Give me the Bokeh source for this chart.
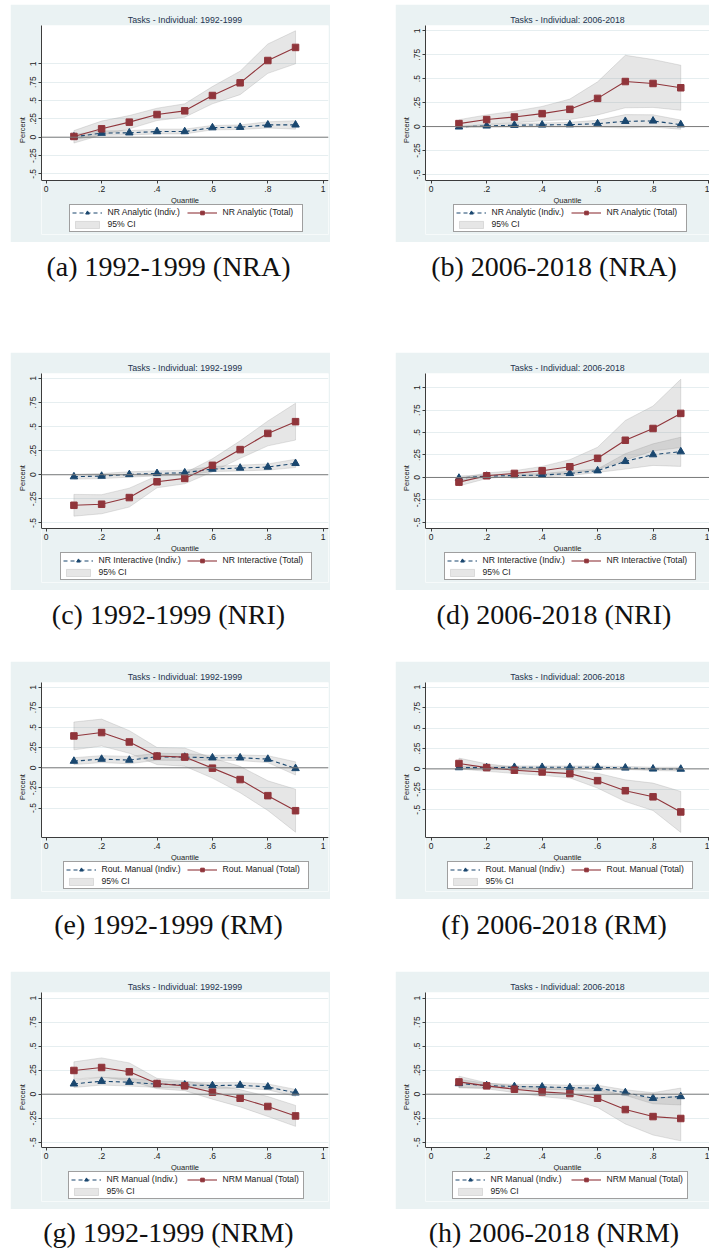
from bokeh.plotting import figure
from bokeh.layouts import column, row
from bokeh.models import (FixedTicker, Span, Legend, LegendItem, Div, Spacer, Range1d,
                          BoxAnnotation)
from bokeh.embed import file_html
from bokeh.resources import INLINE

# ---------------- data ----------------
QUANTILES = [0.1, 0.2, 0.3, 0.4, 0.5, 0.6, 0.7, 0.8, 0.9]
X_TICKS = [0.0, 0.2, 0.4, 0.6, 0.8, 1.0]
X_TICK_LABELS = ["0", ".2", ".4", ".6", ".8", "1"]
Y_TICKS = [-0.5, -0.25, 0.0, 0.25, 0.5, 0.75, 1.0]
Y_TICK_LABELS = ["-.5", "-.25", "0", ".25", ".5", ".75", "1"]

TITLES = ["Tasks - Individual: 1992-1999", "Tasks - Individual: 2006-2018"]
CAPTIONS = ["(a) 1992-1999 (NRA)", "(b) 2006-2018 (NRA)",
            "(c) 1992-1999 (NRI)", "(d) 2006-2018 (NRI)",
            "(e) 1992-1999 (RM)", "(f) 2006-2018 (RM)",
            "(g) 1992-1999 (NRM)", "(h) 2006-2018 (NRM)"]
INDIV_LABELS = ["NR Analytic (Indiv.)", "NR Interactive (Indiv.)",
                "Rout. Manual (Indiv.)", "NR Manual (Indiv.)"]
TOTAL_LABELS = ["NR Analytic (Total)", "NR Interactive (Total)",
                "Rout. Manual (Total)", "NRM Manual (Total)"]
CI_LABEL = "95% CI"

# (a) NRA 1992-1999
A_INDIV = [0.005, 0.055, 0.06, 0.077, 0.077, 0.13, 0.136, 0.168, 0.168]
A_INDIV_LO = [-0.03, 0.025, 0.03, 0.045, 0.045, 0.10, 0.105, 0.125, 0.11]
A_INDIV_HI = [0.04, 0.085, 0.09, 0.11, 0.11, 0.16, 0.167, 0.21, 0.225]
A_TOTAL = [0.01, 0.114, 0.205, 0.309, 0.359, 0.568, 0.741, 1.045, 1.223]
A_TOTAL_LO = [-0.08, 0.03, 0.114, 0.227, 0.273, 0.455, 0.58, 0.87, 1.0]
A_TOTAL_HI = [0.09, 0.22, 0.295, 0.395, 0.455, 0.69, 0.9, 1.27, 1.45]
# (b) NRA 2006-2018
B_INDIV = [-0.003, 0.007, 0.014, 0.017, 0.02, 0.03, 0.055, 0.059, 0.02]
B_INDIV_LO = [-0.012, -0.006, -0.004, -0.004, -0.005, -0.005, -0.015, -0.005, -0.028]
B_INDIV_HI = [0.006, 0.02, 0.032, 0.038, 0.045, 0.065, 0.125, 0.123, 0.068]
B_TOTAL = [0.031, 0.073, 0.10, 0.135, 0.18, 0.294, 0.47, 0.45, 0.405]
B_TOTAL_LO = [-0.01, 0.024, 0.04, 0.06, 0.073, 0.121, 0.196, 0.2, 0.17]
B_TOTAL_HI = [0.072, 0.122, 0.16, 0.21, 0.287, 0.467, 0.744, 0.7, 0.64]
# (c) NRI 1992-1999
C_INDIV = [-0.02, -0.014, 0.003, 0.014, 0.021, 0.059, 0.07, 0.08, 0.118]
C_INDIV_LO = [-0.045, -0.04, -0.025, -0.012, -0.005, 0.033, 0.04, 0.048, 0.075]
C_INDIV_HI = [0.005, 0.012, 0.031, 0.04, 0.047, 0.085, 0.10, 0.112, 0.161]
C_TOTAL = [-0.317, -0.306, -0.237, -0.073, -0.038, 0.098, 0.261, 0.429, 0.551]
C_TOTAL_LO = [-0.43, -0.405, -0.335, -0.135, -0.094, 0.03, 0.17, 0.30, 0.36]
C_TOTAL_HI = [-0.204, -0.207, -0.139, -0.011, 0.018, 0.166, 0.352, 0.558, 0.742]
# (d) NRI 2006-2018
D_INDIV = [-0.007, 0.015, 0.022, 0.026, 0.045, 0.075, 0.179, 0.254, 0.287]
D_INDIV_LO = [-0.03, 0.0, 0.005, 0.008, 0.02, 0.056, 0.093, 0.134, 0.123]
D_INDIV_HI = [0.016, 0.03, 0.039, 0.044, 0.07, 0.094, 0.265, 0.374, 0.448]
D_TOTAL = [-0.052, 0.019, 0.045, 0.075, 0.119, 0.213, 0.414, 0.545, 0.713]
D_TOTAL_LO = [-0.094, -0.012, 0.015, 0.027, 0.04, 0.09, 0.194, 0.295, 0.333]
D_TOTAL_HI = [-0.01, 0.05, 0.075, 0.123, 0.198, 0.336, 0.634, 0.795, 1.093]
# (e) RM 1992-1999
E_INDIV = [0.083, 0.108, 0.096, 0.1375, 0.133, 0.125, 0.125, 0.108, -0.008]
E_INDIV_LO = [0.04, 0.065, 0.05, 0.095, 0.09, 0.095, 0.09, 0.065, -0.09]
E_INDIV_HI = [0.126, 0.151, 0.142, 0.18, 0.176, 0.155, 0.16, 0.151, 0.074]
E_TOTAL = [0.396, 0.438, 0.321, 0.146, 0.133, -0.004, -0.146, -0.346, -0.533]
E_TOTAL_LO = [0.223, 0.271, 0.18, 0.04, 0.02, -0.128, -0.31, -0.53, -0.8]
E_TOTAL_HI = [0.569, 0.605, 0.462, 0.252, 0.246, 0.12, 0.018, -0.162, -0.266]
# (f) RM 2006-2018
F_INDIV = [0.016, 0.016, 0.02, 0.02, 0.02, 0.02, 0.012, 0.0, -0.002]
F_INDIV_LO = [-0.002, 0.0, 0.004, 0.004, 0.004, 0.004, -0.006, -0.02, -0.025]
F_INDIV_HI = [0.034, 0.032, 0.036, 0.036, 0.036, 0.036, 0.03, 0.02, 0.021]
F_TOTAL = [0.066, 0.016, -0.016, -0.037, -0.058, -0.144, -0.267, -0.342, -0.527]
F_TOTAL_LO = [0.0, -0.03, -0.055, -0.078, -0.11, -0.235, -0.4, -0.51, -0.778]
F_TOTAL_HI = [0.132, 0.062, 0.023, 0.004, -0.006, -0.053, -0.134, -0.174, -0.276]
# (g) NRM 1992-1999
G_INDIV = [0.108, 0.135, 0.125, 0.104, 0.097, 0.09, 0.094, 0.076, 0.014]
G_INDIV_LO = [0.07, 0.095, 0.085, 0.07, 0.065, 0.06, 0.065, 0.045, -0.022]
G_INDIV_HI = [0.146, 0.175, 0.165, 0.138, 0.129, 0.12, 0.123, 0.107, 0.05]
G_TOTAL = [0.247, 0.278, 0.233, 0.111, 0.087, 0.021, -0.042, -0.128, -0.226]
G_TOTAL_LO = [0.157, 0.178, 0.14, 0.057, 0.037, -0.052, -0.132, -0.232, -0.335]
G_TOTAL_HI = [0.337, 0.378, 0.326, 0.165, 0.137, 0.094, 0.048, -0.024, -0.117]
# (h) NRM 2006-2018
H_INDIV = [0.111, 0.09, 0.08, 0.076, 0.069, 0.062, 0.017, -0.042, -0.024]
H_INDIV_LO = [0.067, 0.068, 0.058, 0.05, 0.045, 0.03, -0.012, -0.1, -0.112]
H_INDIV_HI = [0.155, 0.112, 0.102, 0.102, 0.093, 0.094, 0.046, 0.016, 0.064]
H_TOTAL = [0.128, 0.087, 0.052, 0.024, 0.007, -0.042, -0.16, -0.233, -0.253]
H_TOTAL_LO = [0.068, 0.056, 0.017, -0.024, -0.052, -0.138, -0.31, -0.425, -0.486]
H_TOTAL_HI = [0.188, 0.118, 0.087, 0.072, 0.066, 0.054, -0.01, -0.041, -0.02]

# ---------------- styling / layout ----------------
Y_RANGES = [(-0.59, 1.522), (-0.563, 1.055),
            (-0.558, 1.051), (-0.568, 1.157),
            (-0.866, 1.06), (-0.84, 1.058),
            (-0.555, 1.059), (-0.555, 1.059)]
LEGEND_LABEL_W = [77, 86, 83, 78]

PLOT_H = 155     # px of the white plotting region
FRAME_H = 209    # frame incl. legend strip below the x axis

BG = "#EAF2F3"
NAVY = "#1A476F"
MAROON = "#90353B"
BAND = "#8f8f8f"
FONT = "Liberation Sans"

PANELS = [
    (A_INDIV, A_INDIV_LO, A_INDIV_HI, A_TOTAL, A_TOTAL_LO, A_TOTAL_HI),
    (B_INDIV, B_INDIV_LO, B_INDIV_HI, B_TOTAL, B_TOTAL_LO, B_TOTAL_HI),
    (C_INDIV, C_INDIV_LO, C_INDIV_HI, C_TOTAL, C_TOTAL_LO, C_TOTAL_HI),
    (D_INDIV, D_INDIV_LO, D_INDIV_HI, D_TOTAL, D_TOTAL_LO, D_TOTAL_HI),
    (E_INDIV, E_INDIV_LO, E_INDIV_HI, E_TOTAL, E_TOTAL_LO, E_TOTAL_HI),
    (F_INDIV, F_INDIV_LO, F_INDIV_HI, F_TOTAL, F_TOTAL_LO, F_TOTAL_HI),
    (G_INDIV, G_INDIV_LO, G_INDIV_HI, G_TOTAL, G_TOTAL_LO, G_TOTAL_HI),
    (H_INDIV, H_INDIV_LO, H_INDIV_HI, H_TOTAL, H_TOTAL_LO, H_TOTAL_HI),
]


def make_panel(i):
    left = (i % 2 == 0)
    r = i // 2
    indiv, ilo, ihi, total, tlo, thi = PANELS[i]
    ylo, yhi = Y_RANGES[i]
    yfull_lo = ylo - (FRAME_H - PLOT_H) * (yhi - ylo) / PLOT_H
    if left:
        x0, x1 = -0.017, 1.019
        fw, mbl, mbr = 287, 31, 2
    else:
        x0, x1 = -0.0206, 1.0036
        fw, mbl, mbr = 284, 30, 0
    p = figure(frame_width=fw, frame_height=FRAME_H,
               min_border_left=mbl, min_border_right=mbr,
               min_border_top=21, min_border_bottom=238 - 21 - FRAME_H,
               x_range=Range1d(x0, x1), y_range=Range1d(yfull_lo, yhi),
               output_backend="svg", toolbar_location=None,
               title=TITLES[0 if left else 1])
    p.border_fill_color = BG
    p.background_fill_color = "white"
    p.outline_line_color = None

    # light strip below the plotting region (holds the legend)
    p.add_layout(BoxAnnotation(left=x0, right=x1, top=ylo, bottom=yfull_lo,
                               fill_color=BG, fill_alpha=1.0, line_color=None,
                               level="underlay"))

    t = p.title
    t.text_font = FONT
    t.text_font_size = "8.8px"
    t.text_font_style = "normal"
    t.text_color = "#24344f"
    t.align = "center"
    t.standoff = 2

    xs = QUANTILES + QUANTILES[::-1]
    band_t = p.patch(xs, list(thi) + list(tlo)[::-1], fill_color=BAND,
                     fill_alpha=0.22, line_color=BAND, line_alpha=0.3, line_width=0.8)
    band_i = p.patch(xs, list(ihi) + list(ilo)[::-1], fill_color=BAND,
                     fill_alpha=0.22, line_color=BAND, line_alpha=0.3, line_width=0.8)

    p.add_layout(Span(location=0, dimension="width", line_color="#7a7a7a", line_width=1))

    l_i = p.line(QUANTILES, indiv, line_color=NAVY, line_width=1.1, line_dash="4 3")
    m_i = p.scatter(QUANTILES, indiv, marker="triangle", size=7.5,
                    fill_color=NAVY, line_color=NAVY)
    l_t = p.line(QUANTILES, total, line_color=MAROON, line_width=1.1)
    m_t = p.scatter(QUANTILES, total, marker="square", size=6.5,
                    fill_color=MAROON, line_color=MAROON)

    # axes
    xa = p.xaxis[0]
    xa.ticker = FixedTicker(ticks=X_TICKS)
    xa.major_label_overrides = dict(zip(X_TICKS, X_TICK_LABELS))
    xa.axis_label = "Quantile"
    xa.fixed_location = ylo
    ya = p.yaxis[0]
    ya.ticker = FixedTicker(ticks=Y_TICKS)
    ya.major_label_overrides = dict(zip(Y_TICKS, Y_TICK_LABELS))
    ya.axis_label = "Percent"
    ya.major_label_orientation = "vertical"
    ya.bounds = (ylo, yhi)
    for ax in (xa, ya):
        ax.axis_line_color = "#3c3c3c"
        ax.major_tick_line_color = "#3c3c3c"
        ax.major_tick_out = 3
        ax.major_tick_in = 0
        ax.minor_tick_line_color = None
        ax.major_label_text_font = FONT
        ax.major_label_text_font_size = "8.5px"
        ax.major_label_text_color = "#222222"
        ax.major_label_standoff = 2
        ax.axis_label_text_font = FONT
        ax.axis_label_text_font_size = "7.5px"
        ax.axis_label_text_font_style = "normal"
        ax.axis_label_text_color = "#222222"
        ax.axis_label_standoff = 1
    p.xgrid.grid_line_color = None
    p.ygrid.ticker = FixedTicker(ticks=Y_TICKS)
    p.ygrid.grid_line_color = "#e6eef0"
    p.ygrid.grid_line_width = 1

    lw = LEGEND_LABEL_W[r]
    leg_w = 4 + 2 * (30 + 6 + lw) + 2
    lx = (287 - leg_w) / 2
    legend = Legend(items=[LegendItem(label=INDIV_LABELS[r], renderers=[l_i, m_i]),
                           LegendItem(label=TOTAL_LABELS[r], renderers=[l_t, m_t]),
                           LegendItem(label=CI_LABEL, renderers=[band_i])],
                    location=(lx, 2), orientation="horizontal", ncols=2,
                    glyph_width=30, glyph_height=9, label_standoff=6,
                    label_width=lw, label_height=10, spacing=2, padding=2,
                    margin=0,
                    label_text_font=FONT, label_text_font_size="8.6px",
                    label_text_color="#222222",
                    border_line_color="#404040", border_line_width=1,
                    background_fill_color="white", background_fill_alpha=1.0)
    p.add_layout(legend)
    return p


def caption(text, width, height, pad):
    html = ('<div style="width:%dpx;font-family:\'Liberation Serif\';font-size:28px;'
            'color:#111;text-align:center;line-height:14px;white-space:nowrap;'
            'padding-top:%dpx;">%s</div>' % (width, pad, text))
    return Div(text=html, width=width, height=height, margin=0)


figs = [make_panel(i) for i in range(8)]
cap_h = [50, 50, 52, 40]
cap_pad = [18, 18, 19, 17]
gaps = [60, 21, 20]

children = [Spacer(width=10, height=4)]
for r in range(4):
    children.append(row(Spacer(width=10, height=10), figs[2 * r], Spacer(width=65, height=10),
                        figs[2 * r + 1]))
    children.append(row(caption(CAPTIONS[2 * r], 337, cap_h[r], cap_pad[r]),
                        Spacer(width=62, height=cap_h[r]),
                        caption(CAPTIONS[2 * r + 1], 310, cap_h[r], cap_pad[r])))
    if r < 3:
        children.append(Spacer(width=10, height=gaps[r]))

layout = column(*children)
open("out.html", "w").write(file_html(layout, INLINE, title="Tasks - Individual"))
